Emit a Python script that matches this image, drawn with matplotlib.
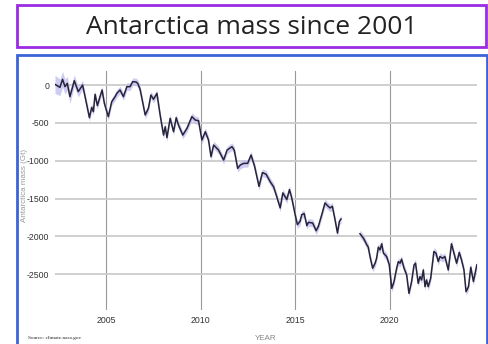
import matplotlib
matplotlib.use("Agg")
import matplotlib.pyplot as plt
import numpy as np
from matplotlib.patches import Rectangle

title = "Antarctica mass since 2001"
x_ticks = [2005, 2010, 2015, 2020]
y_ticks = [0, -500, -1000, -1500, -2000, -2500]

years_a = [2002.30, 2002.56, 2002.70, 2002.83, 2002.95, 2003.09, 2003.32, 2003.53, 2003.76, 2003.89,
           2004.12, 2004.24, 2004.33, 2004.42, 2004.54, 2004.68, 2004.79, 2004.91, 2005.12, 2005.30,
           2005.48, 2005.57, 2005.74, 2005.92, 2006.10, 2006.27, 2006.41, 2006.59, 2006.68, 2006.80,
           2007.07, 2007.24, 2007.37, 2007.51, 2007.69, 2007.86, 2008.04, 2008.13, 2008.22, 2008.39,
           2008.57, 2008.71, 2008.83, 2009.06, 2009.28, 2009.54, 2009.72, 2009.89, 2010.07, 2010.25,
           2010.42, 2010.55, 2010.69, 2010.95, 2011.22, 2011.40, 2011.66, 2011.78, 2011.96, 2012.10,
           2012.28, 2012.49, 2012.67, 2012.86, 2013.09, 2013.27, 2013.47, 2013.68, 2013.86, 2014.03,
           2014.21, 2014.35, 2014.56, 2014.70, 2014.82, 2015.00, 2015.12, 2015.26, 2015.35, 2015.48,
           2015.62, 2015.70, 2015.93, 2016.11, 2016.23, 2016.41, 2016.58, 2016.71, 2016.85, 2016.97,
           2017.11, 2017.24, 2017.34, 2017.43]
mass_a = [9, -31, 75, -22, 22, -154, 57, -88, 0, -154,
          -432, -295, -352, -123, -273, -154, -66, -242, -418, -220,
          -154, -110, -66, -154, -22, -22, 44, 40, 20, -57,
          -396, -308, -132, -189, -110, -396, -661, -551, -696, -440,
          -617, -432, -529, -661, -573, -418, -463, -471, -727, -617,
          -727, -947, -793, -859, -991, -859, -815, -859, -1101, -1057,
          -1035, -1035, -925, -1078, -1339, -1156, -1180, -1277, -1344, -1476,
          -1624, -1425, -1513, -1381, -1491, -1712, -1845, -1801, -1712, -1699,
          -1858, -1814, -1823, -1925, -1867, -1712, -1558, -1593, -1624, -1602,
          -1779, -1956, -1801, -1770]

years_b = [2018.43, 2018.61, 2018.79, 2018.87, 2018.96, 2019.10, 2019.23, 2019.31, 2019.40, 2019.49,
           2019.58, 2019.67, 2019.84, 2019.98, 2020.11, 2020.23, 2020.37, 2020.46, 2020.55, 2020.63,
           2020.76, 2020.90, 2021.02, 2021.16, 2021.29, 2021.37, 2021.51, 2021.60, 2021.69, 2021.78,
           2021.87, 2021.95, 2022.04, 2022.17, 2022.34, 2022.45, 2022.57, 2022.66, 2022.80, 2022.92,
           2023.10, 2023.27, 2023.40, 2023.54, 2023.68, 2023.80, 2023.93, 2024.04, 2024.17, 2024.29,
           2024.43, 2024.61]
mass_b = [-1965, -2022, -2111, -2142, -2266, -2420, -2354, -2288, -2142, -2177,
          -2097, -2221, -2266, -2376, -2686, -2597, -2420, -2332, -2354, -2301,
          -2420, -2509, -2752, -2597, -2376, -2354, -2620, -2531, -2575, -2443,
          -2664, -2575, -2664, -2553, -2199, -2221, -2332, -2266, -2288, -2266,
          -2443, -2097, -2221, -2354, -2212, -2310, -2443, -2730, -2664, -2407,
          -2597, -2376]

W, H = 489, 344
fig = plt.figure(figsize=(W / 100, H / 100), dpi=100)
fig.patch.set_facecolor("white")

def fx(px):
    return px / W

def fy(py):
    return 1 - py / H

# title box
fig.patches.append(Rectangle((fx(17), fy(47)), fx(486) - fx(17), fy(5) - fy(47),
                             transform=fig.transFigure, facecolor="none",
                             edgecolor="#9a2be2", linewidth=2.0, zorder=5))
fig.text(fx(252), fy(27), title, ha="center", va="center", fontsize=19,
         family="Open Sans", color="#222222")

# blue frame
fig.patches.append(Rectangle((fx(17), fy(350)), fx(487) - fx(17), fy(55) - fy(350),
                             transform=fig.transFigure, facecolor="none",
                             edgecolor="#3b64d8", linewidth=2.0, zorder=5))

ax = fig.add_axes([fx(55), fy(310), fx(477) - fx(55), fy(71) - fy(310)])
ax.set_facecolor("none")
ax.set_xlim(2002.3, 2024.62)
ax.set_ylim(-2972, 185)

for s in ax.spines.values():
    s.set_visible(False)
ax.set_xticks(x_ticks)
ax.set_yticks(y_ticks)
ax.set_xticklabels([str(v) for v in x_ticks])
ax.set_yticklabels([str(v) for v in y_ticks])
ax.tick_params(length=0, labelsize=6.3, colors="#333333", pad=4)
for lab in ax.get_xticklabels() + ax.get_yticklabels():
    lab.set_family("Liberation Sans")
ax.grid(axis="y", color="#cccccc", linewidth=1.3)
ax.grid(axis="x", color="#999999", linewidth=0.8)
ax.set_axisbelow(True)

for yrs, ms in ((years_a, mass_a), (years_b, mass_b)):
    yrs = np.array(yrs)
    ms = np.array(ms)
    unc = 50 + 70 * np.clip(2004.0 - yrs, 0, None) / 1.7
    ax.fill_between(yrs, ms - unc, ms + unc, color="#c6c3f0", linewidth=0, alpha=0.85)
    ax.plot(yrs, ms, color="#26243a", linewidth=1.1)

fig.text(fx(24.5), fy(185), "Antarctica mass (Gt)", rotation=90, ha="center", va="center",
         fontsize=5.8, color="#999999", family="Liberation Sans")
fig.text(fx(266), fy(338), "YEAR", ha="center", va="center", fontsize=5.8,
         color="#888888", family="Liberation Sans")
fig.text(fx(28), fy(338), "Source: climate.nasa.gov", ha="left", va="center",
         fontsize=3.8, color="#222222", family="Liberation Serif")

fig.savefig("out.png", dpi=100)
